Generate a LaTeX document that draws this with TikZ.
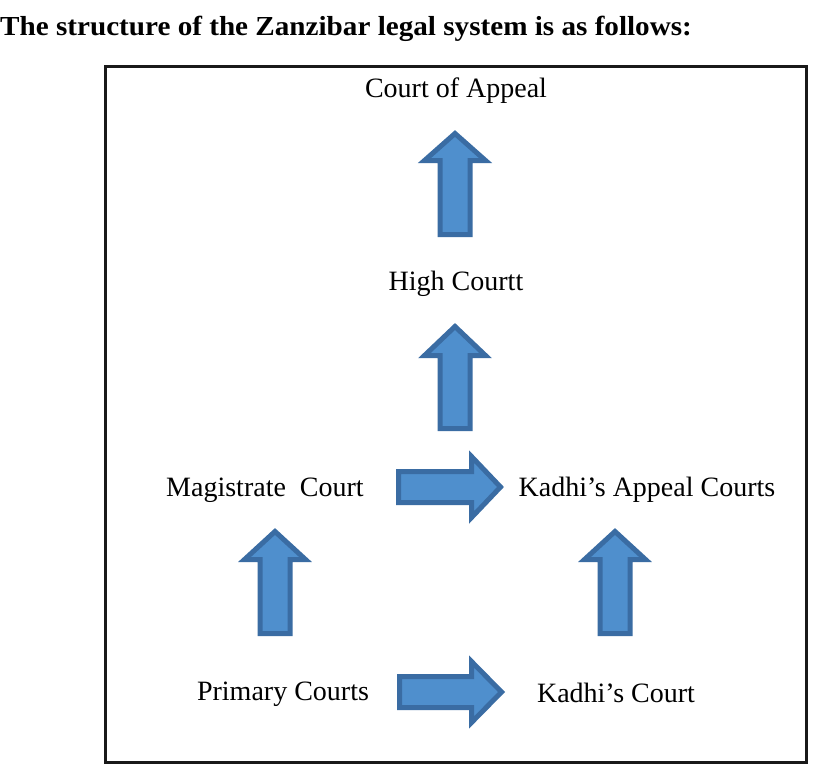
\documentclass[tikz,border=0pt]{standalone}
\usepackage{fontspec}
\setmainfont{Liberation Serif}
\definecolor{arrfill}{HTML}{4F8FCD}
\definecolor{arrdraw}{HTML}{3A6CA3}
\begin{document}
\begin{tikzpicture}[x=1pt,y=-1pt,
  lbl/.style={inner sep=0pt,font=\fontsize{28}{32}\selectfont,text=black},
  blockarrow/.style={fill=arrfill,draw=arrdraw,line width=5pt,line join=miter}]
\useasboundingbox (0,0) rectangle (828,772);
\fill[white] (0,0) rectangle (828,772);
% title
\node[anchor=base west,inner sep=0pt,xscale=1.06,font=\bfseries\fontsize{27.5}{32}\selectfont] (title) at (0,35) {The structure of the Zanzibar legal system is as follows:};
% frame
\draw[line width=3pt,color=black!90] (105,66) rectangle (806,762);
% labels
\node[lbl] (coa) at (456,91) {Court of Appeal};
\node[lbl] (hc) at (456,284) {High Courtt};
\node[lbl] (mc) at (265,490) {Magistrate\ \ Court};
\node[lbl] (kac) at (647,490) {Kadhi’s Appeal Courts};
\node[lbl] (pc) at (283,694) {Primary Courts};
\node[lbl] (kc) at (616,693) {Kadhi’s Court};
% up arrows: cx, tip, headbase, bottom
\newcommand\uparrowshape[4]{%
  \draw[blockarrow] (#1,#2+3.5) -- (#1+30.5,#3-2.5) -- (#1+15,#3-2.5) -- (#1+15,#4-2.5)
     -- (#1-15,#4-2.5) -- (#1-15,#3-2.5) -- (#1-30.5,#3-2.5) -- cycle;}
\newcommand\rightarrowshape[4]{%
  \draw[blockarrow] (#2-3.5,#1) -- (#3+2.5,#1+30.5) -- (#3+2.5,#1+15.5) -- (#4+2.5,#1+15.5)
     -- (#4+2.5,#1-15.5) -- (#3+2.5,#1-15.5) -- (#3+2.5,#1-30.5) -- cycle;}
\uparrowshape{455}{130}{163}{237}
\uparrowshape{455}{323}{358}{431}
\uparrowshape{275}{528}{562}{636}
\uparrowshape{615}{528}{562}{636}
% right arrows: cy, tip, headbase, left
\rightarrowshape{487}{504}{469}{396}
\rightarrowshape{692}{505}{469}{397}
\end{tikzpicture}
\end{document}
